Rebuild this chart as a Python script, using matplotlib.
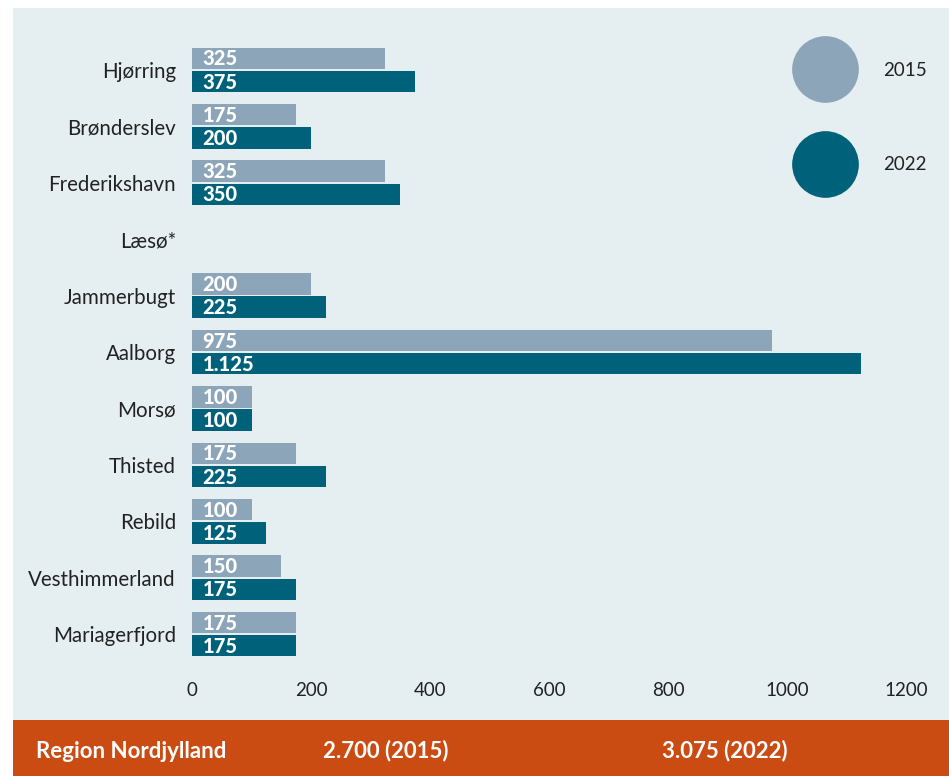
import matplotlib.pyplot as plt
from matplotlib.lines import Line2D
from matplotlib.patches import Rectangle
import numpy as np

municipalities = [
    "Hjørring", "Brønderslev", "Frederikshavn", "Læsø*", "Jammerbugt",
    "Aalborg", "Morsø", "Thisted", "Rebild", "Vesthimmerland", "Mariagerfjord",
]
values_2015 = [325, 175, 325, None, 200, 975, 100, 175, 100, 150, 175]
values_2022 = [375, 200, 350, None, 225, 1125, 100, 225, 125, 175, 175]
x_ticks = [0, 200, 400, 600, 800, 1000, 1200]
region_label = "Region Nordjylland"
region_total_2015 = "2.700 (2015)"
region_total_2022 = "3.075 (2022)"

C_2015 = "#8da5b8"
C_2022 = "#00627a"
C_BG = "#e5eef1"
C_BAND = "#ca4c13"
C_TEXT = "#222222"

plt.rcParams["font.family"] = ["Lato", "DejaVu Sans"]


def dk(v):
    return f"{v:,}".replace(",", ".")


fig = plt.figure(figsize=(9.49, 7.76), dpi=100)
fig.patch.set_facecolor("white")

# background panel and bottom band
fig.patches.append(Rectangle((13 / 949, 56 / 776), 1 - 13 / 949, 1 - 8 / 776 - 56 / 776,
                             transform=fig.transFigure, facecolor=C_BG, edgecolor="none", zorder=-10))
fig.patches.append(Rectangle((13 / 949, 0), 1 - 13 / 949, 56 / 776,
                             transform=fig.transFigure, facecolor=C_BAND, edgecolor="none", zorder=-10))

ax = fig.add_axes([192 / 949, 1 - 668 / 776, (906 - 192) / 949, (668 - 36) / 776])
ax.set_facecolor("none")

y = np.arange(len(municipalities))
h = 0.38
off = 0.205
v15 = np.array([np.nan if v is None else v for v in values_2015], dtype=float)
v22 = np.array([np.nan if v is None else v for v in values_2022], dtype=float)
ax.barh(y - off, v15, height=h, color=C_2015, label="2015")
ax.barh(y + off, v22, height=h, color=C_2022, label="2022")

for yi, a, b in zip(y, values_2015, values_2022):
    for val, yy in ((a, yi - off), (b, yi + off)):
        if val is None:
            continue
        ax.annotate(dk(val), xy=(0, yy), xytext=(7.5, -0.5), textcoords="offset points",
                    ha="left", va="center", color="white", fontsize=14.5, fontweight="black")

ax.set_xlim(0, 1200)
ax.set_ylim(len(municipalities) - 0.4, -0.6)
ax.set_yticks(y)
ax.set_yticklabels(municipalities)
ax.set_xticks(x_ticks)
ax.set_xticklabels([str(t) for t in x_ticks])
ax.tick_params(axis="y", length=0, pad=11.5, labelsize=14.8, labelcolor=C_TEXT)
ax.tick_params(axis="x", length=0, pad=10, labelsize=13.5, labelcolor=C_TEXT)
for s in ax.spines.values():
    s.set_visible(False)

# big round legend markers, centred on the label text
handles = [
    Line2D([], [], marker="o", linestyle="none", markersize=47,
           markerfacecolor=C_2015, markeredgecolor=C_2015, label="2015"),
    Line2D([], [], marker="o", linestyle="none", markersize=47,
           markerfacecolor=C_2022, markeredgecolor=C_2022, label="2022"),
]
fig.legend(handles=handles, loc="upper left", bbox_to_anchor=(787 / 949, 1 - 62 / 776),
           bbox_transform=fig.transFigure, frameon=False, fontsize=13.5,
           handlelength=4.0, handleheight=0.7, labelspacing=4.11, handletextpad=1.1,
           borderpad=0, borderaxespad=0, labelcolor=C_TEXT)

band_y = 1 - 751 / 776
fig.text(36 / 949, band_y, region_label, color="white", fontsize=16, fontweight="bold", va="center")
fig.text(323 / 949, band_y, region_total_2015, color="white", fontsize=16, fontweight="bold", va="center")
fig.text(662 / 949, band_y, region_total_2022, color="white", fontsize=16, fontweight="bold", va="center")

fig.savefig("out.png", dpi=100)
plt.close(fig)
